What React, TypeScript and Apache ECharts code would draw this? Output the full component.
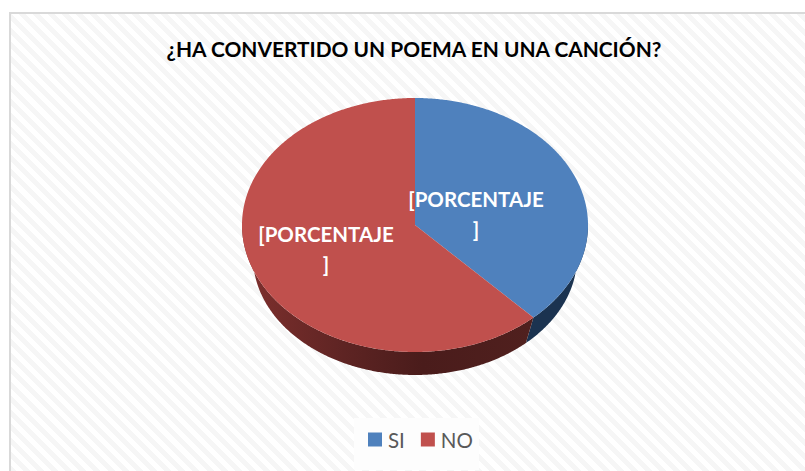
import React, { useEffect, useRef } from "react";
import * as echarts from "echarts";

const TITLE = "¿HA CONVERTIDO UN POEMA EN UNA CANCIÓN?";
const categories = ["SI", "NO"];
const percentages = [38, 62];
const sliceLabels = ["[PORCENTAJE\n]", "[PORCENTAJE\n]"];
const topColors = ["#4f81bd", "#c0504d"];

const CX = 415;
const CY = 225;
const RX = 173;
const RY = 127;
const BOTTOM_CY = 257;
const BOTTOM_RX = 162;
const BOTTOM_RY = 118;
const LABEL_POS = [
  [476, 214],
  [326, 249],
];

const total = percentages.reduce((a, b) => a + b, 0);

function arc(from: number, to: number, cy = CY, rx = RX, ry = RY): number[][] {
  const out: number[][] = [];
  const n = Math.max(2, Math.ceil(Math.abs(to - from) * 2));
  for (let i = 0; i <= n; i++) {
    const a = ((from + ((to - from) * i) / n) * Math.PI) / 180;
    out.push([CX + rx * Math.sin(a), cy - ry * Math.cos(a)]);
  }
  return out;
}

function sideFill(index: number) {
  if (index === 0) return "#1b3350";
  return new echarts.graphic.LinearGradient(0, 0, 1, 0, [
    { offset: 0, color: "#7f302e" },
    { offset: 0.35, color: "#5e2423" },
    { offset: 0.62, color: "#4a1c1b" },
    { offset: 1, color: "#50201e" },
  ]);
}

function makeRenderItem(index: number) {
  return (_params: any, api: any) => {
    const before = percentages.slice(0, index).reduce((a, b) => a + b, 0);
    const start = (before / total) * 360;
    const end = start + (Number(api.value(0)) / total) * 360;
    const children: any[] = [];
    const sideStart = Math.max(start, 90);
    const sideEnd = Math.min(end, 270);
    if (sideEnd > sideStart) {
      children.push({
        type: "polygon",
        shape: {
          points: [...arc(sideStart, sideEnd), ...arc(sideEnd, sideStart, BOTTOM_CY, BOTTOM_RX, BOTTOM_RY)],
        },
        style: { fill: sideFill(index) },
      });
    }
    children.push({
      type: "polygon",
      shape: { points: [[CX, CY], ...arc(start, end)] },
      style: { fill: topColors[index] },
    });
    children.push({
      type: "text",
      z2: 50,
      style: {
        x: LABEL_POS[index][0],
        y: LABEL_POS[index][1],
        text: sliceLabels[index],
        fill: "#ffffff",
        font: "bold 20.5px Lato",
        lineHeight: 30,
        align: "center",
        verticalAlign: "middle",
      },
    });
    return { type: "group", children };
  };
}

export default function App() {
  const ref = useRef<HTMLDivElement>(null);
  useEffect(() => {
    const chart = echarts.init(ref.current!, null, { renderer: "svg" });
    chart.setOption({
      animation: false,
      backgroundColor: "transparent",
      title: {
        text: TITLE,
        left: 409,
        top: 33,
        textAlign: "center",
        textStyle: { fontFamily: "Lato", fontWeight: "bold", fontSize: 20.9, color: "#000000" },
      },
      legend: {
        data: categories,
        left: 354,
        top: 418,
        padding: [11, 6, 20, 14],
        itemGap: 16,
        itemWidth: 14,
        itemHeight: 14,
        icon: "rect",
        backgroundColor: "#fdfdfd",
        selectedMode: false,
        textStyle: { fontFamily: "Lato", fontSize: 20.5, color: "#595959", padding: [0, 0, 0, 1] },
      },
      series: categories.map((name, i) => ({
        type: "custom",
        name,
        coordinateSystem: "none",
        silent: true,
        itemStyle: { color: topColors[i] },
        data: [[percentages[i]]],
        renderItem: makeRenderItem(i),
      })),
    });
    return () => chart.dispose();
  }, []);
  return (
    <div style={{ position: "fixed", left: 0, top: 0, width: 805, height: 471, background: "#fff", overflow: "hidden" }}>
      <div
        style={{
          position: "absolute",
          left: 9,
          top: 12,
          width: 800,
          height: 470,
          boxSizing: "border-box",
          border: "2px solid #d9d9d9",
          background: "repeating-linear-gradient(45deg, #ffffff 0 5px, #f6f6f6 5px 10px)",
        }}
      />
      <div ref={ref} style={{ position: "absolute", left: 0, top: 0, width: 805, height: 471 }} />
    </div>
  );
}
